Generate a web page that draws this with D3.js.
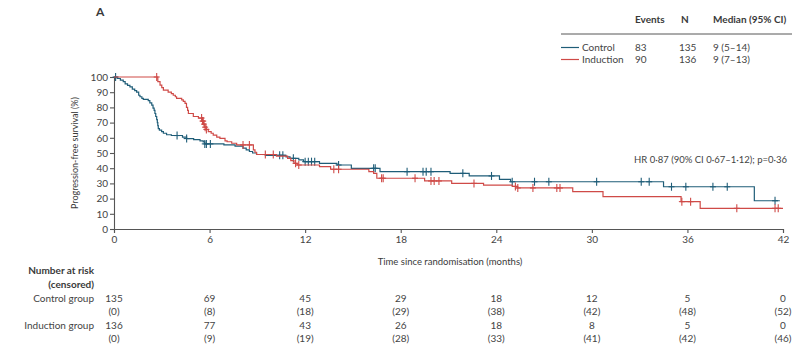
<!DOCTYPE html>
<html><head><meta charset="utf-8">
<script src="https://cdn.jsdelivr.net/npm/d3@7"></script>
<style>body{margin:0;background:#fff}svg{display:block;font-family:Lato,"Open Sans",sans-serif}</style>
</head><body><svg id="c" width="800" height="360"></svg>
<script>
// ---- Data ----
const xTicks = [0, 6, 12, 18, 24, 30, 36, 42];
const yTicks = [0, 10, 20, 30, 40, 50, 60, 70, 80, 90, 100];
const seriesNames = ["Control", "Induction"];
const seriesEvents = [83, 90];
const seriesN = [135, 136];
const seriesMedian = ["9 (5–14)", "9 (7–13)"];
const controlSteps = [[0,100],[0.2,99],[0.4,98],[0.58,97],[0.7,95.5],[0.85,94.5],[1.0,93.5],[1.15,92],[1.3,91],[1.42,90],[1.55,88],[1.63,87],[1.75,86],[1.84,85.3],[2.15,84.5],[2.25,83],[2.37,81.5],[2.45,79.5],[2.52,78],[2.57,76],[2.62,74],[2.68,72],[2.72,70],[2.75,68],[2.78,66],[2.85,65],[2.99,64],[3.1,63],[3.3,62],[3.6,61.5],[4.3,60.5],[4.56,59.5],[5.0,58.8],[5.4,58],[5.6,57.3],[5.7,56],[6.9,55.3],[7.6,54.5],[8.1,53.2],[8.3,52],[8.5,51],[8.7,50],[8.95,49],[9.5,48.5],[10.8,47.5],[11.05,46.5],[11.6,45.5],[11.9,44.3],[12.9,43.2],[14.0,42.1],[14.9,39.9],[16.7,37.7],[21.1,36.6],[22.3,34.9],[24.2,32.7],[24.9,31.1],[34.5,27.8],[40.2,18.6],[41.8,18.6]];
const controlCensor = [0.1,3.96,4.56,5.7,5.8,6.05,10.4,10.6,11.26,12.0,12.2,12.4,12.6,14.1,16.3,16.4,18.4,19.4,19.6,19.9,21.9,23.7,25.0,26.4,27.3,30.3,33.1,33.6,35.0,35.9,37.6,38.5,41.5];
const inductionSteps = [[0,100],[2.75,97],[2.89,94.7],[3.0,93],[3.1,91.4],[3.4,90],[3.6,89],[3.72,88],[3.85,87],[3.93,86],[4.25,85],[4.35,84],[4.46,82.7],[4.55,80],[4.62,78],[4.67,76],[4.98,74],[5.3,73],[5.55,71],[5.62,69],[5.7,67],[5.78,65.5],[5.92,64],[6.1,63],[6.23,61.8],[6.45,60.5],[6.65,59.6],[6.97,58],[7.1,57.4],[7.39,56.4],[7.7,55.3],[8.75,52],[8.85,50.5],[8.95,49],[10.2,48],[10.9,46.5],[11.1,45],[11.3,43.2],[11.5,42.1],[12.9,41],[13.6,39.3],[16.0,37.7],[16.3,36.6],[16.5,33.4],[19.5,31.6],[21.2,30],[23.2,28.9],[25.0,28],[25.3,27],[28.8,24.6],[30.7,21.3],[35.6,18],[36.8,13.6],[42,13.6]];
const inductionCensor = [2.68,5.5,5.56,5.6,5.65,5.72,5.8,8.1,8.5,9.5,10.0,11.4,11.6,13.8,14.1,16.8,16.9,18.9,19.9,20.1,20.4,22.6,25.2,25.35,26.3,27.8,28.0,35.65,36.2,39.1,41.5,41.7];
const riskTimes = [0, 6, 12, 18, 24, 30, 36, 42];
const controlRisk = [135, 69, 45, 29, 18, 12, 5, 0];
const controlCens = [0, 8, 18, 29, 38, 42, 48, 52];
const inductionRisk = [136, 77, 43, 26, 18, 8, 5, 0];
const inductionCens = [0, 9, 19, 28, 33, 41, 42, 46];
const colors = ["#1f5d78", "#cf4a47"];

// ---- Chart ----
const svg = d3.select("#c");
const x = d3.scaleLinear().domain([0, 42]).range([114, 783]);
const y = d3.scaleLinear().domain([0, 100]).range([229, 77]);
const txt = "#3a3a3a";

svg.append("text").attr("x", 96).attr("y", 16).attr("font-size", 12).attr("font-weight", "bold").attr("fill", txt).text("A");

// axes
const ya = svg.append("g").attr("transform", "translate(114,0)").call(d3.axisLeft(y).tickValues(yTicks).tickSize(4).tickPadding(2));
const xa = svg.append("g").attr("transform", "translate(0,229)").call(d3.axisBottom(x).tickValues(xTicks).tickSize(4).tickPadding(3));
[ya, xa].forEach(g => {
  g.selectAll("path,line").attr("stroke", "#555").attr("stroke-width", 1.1);
  g.selectAll("text").attr("font-size", 10).attr("fill", "#444").attr("font-family", "Lato, sans-serif");
});

svg.append("text").attr("transform", "translate(78,153) rotate(-90)").attr("text-anchor", "middle")
  .attr("font-size", 9).attr("fill", txt).text("Progression-free survival (%)");
svg.append("text").attr("x", 450).attr("y", 265).attr("text-anchor", "middle")
  .attr("font-size", 9.5).attr("fill", txt).text("Time since randomisation (months)");

svg.append("text").attr("x", 787).attr("y", 163).attr("text-anchor", "end")
  .attr("font-size", 9.5).attr("fill", "#444").text("HR 0·87 (90% CI 0·67–1·12); p=0·36");

// curves
const line = d3.line().x(d => x(d[0])).y(d => y(d[1])).curve(d3.curveStepAfter);
function survAt(steps, t) { let s = steps[0][1]; for (const p of steps) { if (p[0] <= t) s = p[1]; } return s; }
[[controlSteps, controlCensor], [inductionSteps, inductionCensor]].forEach(([steps, cens], i) => {
  svg.append("path").datum(steps).attr("d", line).attr("fill", "none").attr("stroke", colors[i]).attr("stroke-width", 1.2);
  const g = svg.append("g").attr("stroke", colors[i]).attr("stroke-width", 1.1);
  cens.forEach(t => {
    const cx = x(t), cy = y(survAt(steps, t));
    g.append("line").attr("x1", cx).attr("x2", cx).attr("y1", cy - 4).attr("y2", cy + 4);
    g.append("line").attr("x1", cx - 3).attr("x2", cx + 3).attr("y1", cy).attr("y2", cy);
  });
});

// legend
const lg = svg.append("g").attr("font-size", 10).attr("fill", txt);
const cols = [635, 681, 713];
["Events", "N", "Median (95% CI)"].forEach((h, j) => lg.append("text").attr("x", cols[j]).attr("y", 23).attr("font-weight", "bold").attr("fill", txt).text(h));
lg.append("line").attr("x1", 561).attr("x2", 792).attr("y1", 34).attr("y2", 34).attr("stroke", "#444").attr("stroke-width", 0.9);
seriesNames.forEach((n, i) => {
  const yy = 51 + i * 12;
  lg.append("line").attr("x1", 561).attr("x2", 579).attr("y1", yy - 3.5).attr("y2", yy - 3.5).attr("stroke", colors[i]).attr("stroke-width", 1.2);
  lg.append("text").attr("x", 582).attr("y", yy).attr("fill", "#444").text(n);
  lg.append("text").attr("x", cols[0]).attr("y", yy).attr("fill", "#444").text(seriesEvents[i]);
  lg.append("text").attr("x", cols[1] - 2).attr("y", yy).attr("fill", "#444").text(seriesN[i]);
  lg.append("text").attr("x", cols[2]).attr("y", yy).attr("fill", "#444").text(seriesMedian[i]);
});

// risk table
const rt = svg.append("g").attr("font-size", 10).attr("fill", "#444");
rt.append("text").attr("x", 94).attr("y", 274).attr("text-anchor", "end").attr("font-weight", "bold").attr("fill", txt).text("Number at risk");
rt.append("text").attr("x", 94).attr("y", 288).attr("text-anchor", "end").attr("font-weight", "bold").attr("fill", txt).text("(censored)");
rt.append("text").attr("x", 94).attr("y", 302).attr("text-anchor", "end").text("Control group");
rt.append("text").attr("x", 94).attr("y", 329).attr("text-anchor", "end").text("Induction group");
const rows = [[controlRisk, 302], [controlCens, 315, true], [inductionRisk, 329], [inductionCens, 342, true]];
rows.forEach(([vals, yy, paren]) => {
  vals.forEach((v, k) => rt.append("text").attr("x", x(riskTimes[k])).attr("y", yy).attr("text-anchor", "middle").text(paren ? "(" + v + ")" : v));
});
</script></body></html>
